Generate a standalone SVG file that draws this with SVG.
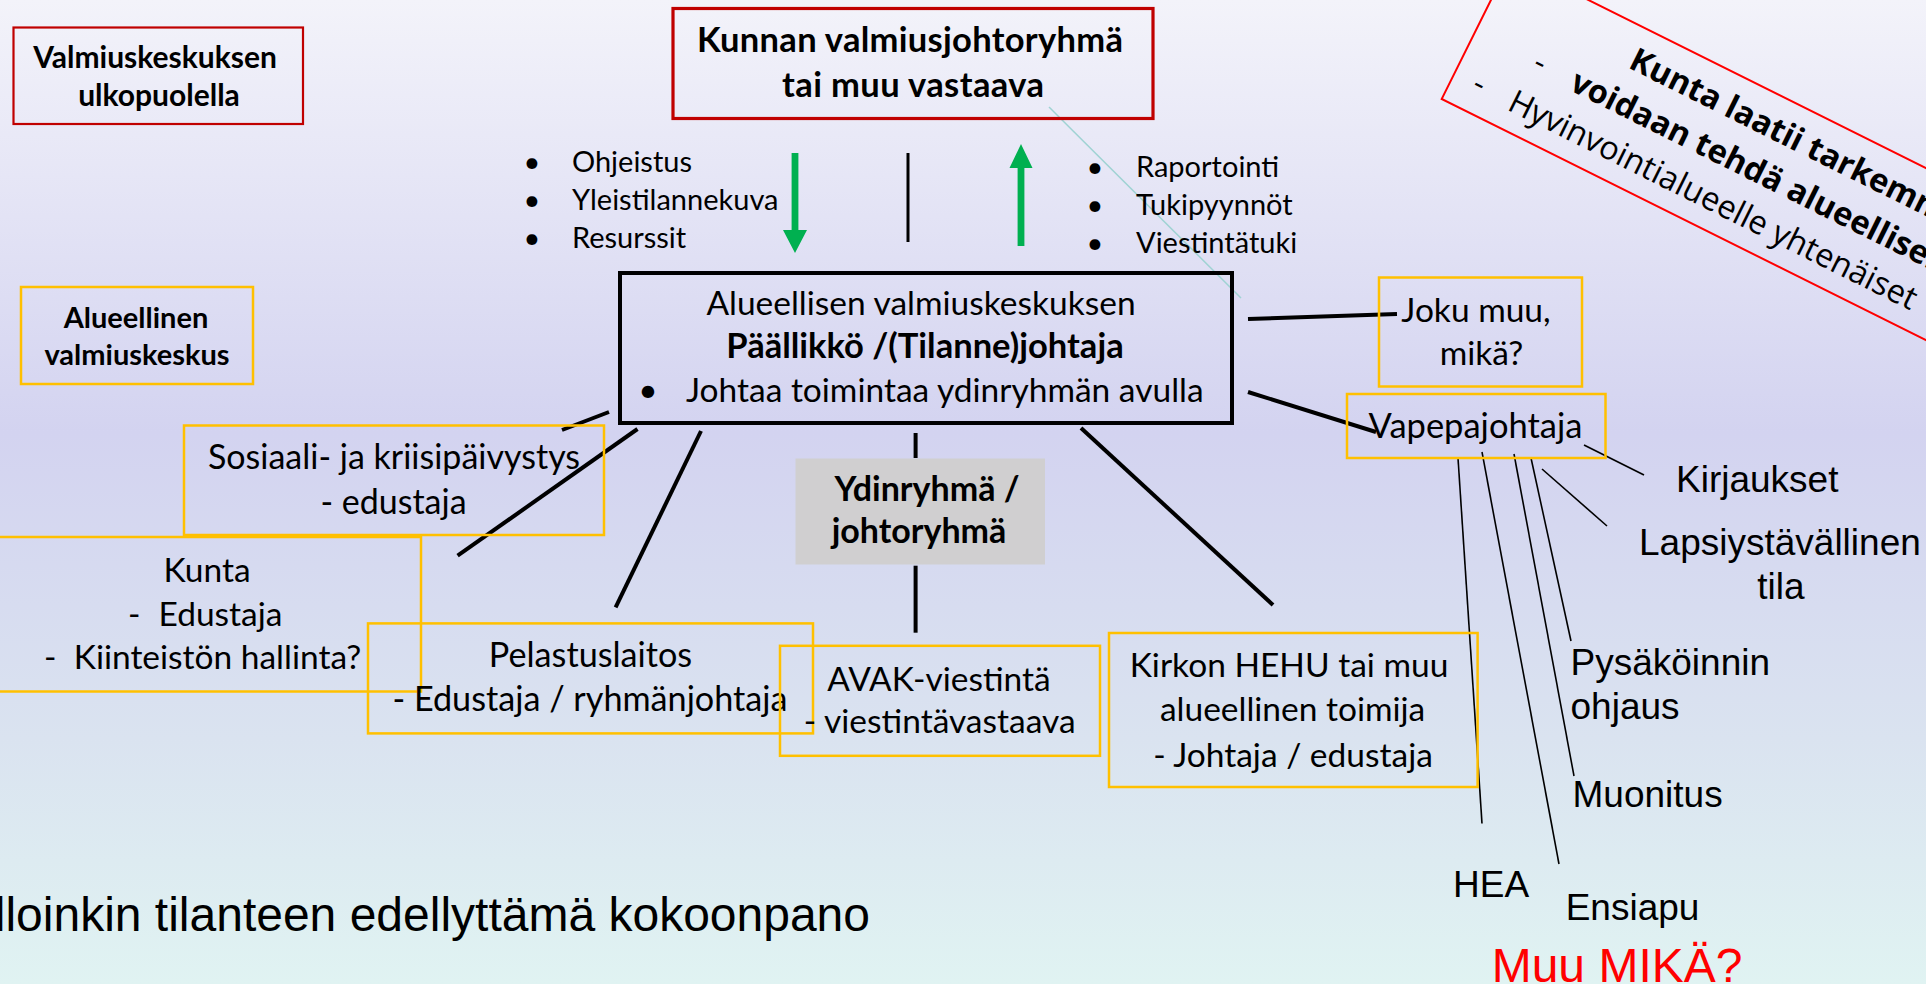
<svg xmlns="http://www.w3.org/2000/svg" width="1926" height="984" viewBox="0 0 1926 984">
<defs>
<linearGradient id="bg" x1="0" y1="0" x2="0" y2="1">
<stop offset="0" stop-color="#f3f3fa"/>
<stop offset="0.44" stop-color="#d3d3f0"/>
<stop offset="0.75" stop-color="#dae3f0"/>
<stop offset="1" stop-color="#e0f3f2"/>
</linearGradient>
<style>
.c{font-family:Lato,"Liberation Sans",sans-serif;fill:#000}
.b{font-weight:bold}
.t29{font-size:29px}
.t30{font-size:30px}
.t33{font-size:33.5px}
.t34{font-size:34.5px}
.a{font-family:"Liberation Sans",Arial,sans-serif;font-size:37px;fill:#000}
.o{font-family:"Open Sans",sans-serif;font-size:32.5px;fill:#000}
.m{text-anchor:middle}
.gold{fill:none;stroke:#ffc000;stroke-width:2.5}
.red{fill:none;stroke:#c00000}
.ln{stroke:#000;stroke-width:4;fill:none}
.thin{stroke:#000;stroke-width:1.6;fill:none}
.grn{fill:#00b050}
</style>
</defs>
<rect x="0" y="0" width="1926" height="984" fill="url(#bg)"/>

<g id="connectors">
<line class="ln" x1="908" y1="153" x2="908" y2="242" style="stroke-width:3"/>
<polygon class="grn" points="791.6,153 798.4,153 798.4,230 807,230 795,253 783,230 791.6,230"/>
<polygon class="grn" points="1021,144 1032.5,168 1024.4,168 1024.4,246 1017.6,246 1017.6,168 1009.5,168"/>
<line x1="1049" y1="107" x2="1241" y2="298" stroke="#9fd3d3" stroke-width="1.5"/>
<line class="ln" x1="1248" y1="319" x2="1397" y2="314"/>
<line class="ln" x1="1248" y1="392" x2="1376" y2="432"/>
<line class="ln" x1="562" y1="430" x2="609" y2="412"/>
<line class="ln" x1="637.5" y1="429" x2="457.6" y2="555.7"/>
<line class="ln" x1="701" y1="431" x2="615.6" y2="607.4"/>
<line class="ln" x1="1081" y1="428" x2="1273" y2="605"/>
<line class="ln" x1="915.6" y1="433" x2="915.6" y2="458"/>
<line class="ln" x1="915.6" y1="565.7" x2="915.6" y2="632.7"/>
<line class="thin" x1="1584" y1="445" x2="1644" y2="475"/>
<line class="thin" x1="1542" y1="469" x2="1607" y2="526"/>
<line class="thin" x1="1531" y1="458" x2="1571" y2="641"/>
<line class="thin" x1="1514" y1="454" x2="1574" y2="776"/>
<line class="thin" x1="1482" y1="452" x2="1559" y2="864"/>
<line class="thin" x1="1458" y1="458" x2="1482" y2="823.5"/>
</g>

<g id="valmiuskeskuksen-ulkopuolella">
<rect class="red" x="13.5" y="27.5" width="289.5" height="96.5" stroke-width="2.2"/>
<text class="c b t30 m" x="155" y="68">Valmiuskeskuksen</text>
<text class="c b t30 m" x="159" y="106">ulkopuolella</text>
</g>

<g id="kunnan-valmiusjohtoryhma">
<rect class="red" x="673" y="8.5" width="480" height="110" stroke-width="3.2"/>
<text class="c b m" x="910" y="52" font-size="34.5" textLength="426" lengthAdjust="spacing">Kunnan valmiusjohtoryhmä</text>
<text class="c b m" x="913" y="97" font-size="34.5" textLength="262" lengthAdjust="spacing">tai muu vastaava</text>
</g>

<g id="ohjeistus-lista">
<text class="c t29 m" x="532" y="172">•</text>
<text class="c t29" x="572" y="172">Ohjeistus</text>
<text class="c t29 m" x="532" y="210">•</text>
<text class="c t29" x="572" y="210">Yleistilannekuva</text>
<text class="c t29 m" x="532" y="248">•</text>
<text class="c t29" x="572" y="248">Resurssit</text>
</g>

<g id="raportointi-lista">
<text class="c t29 m" x="1095" y="177">•</text>
<text class="c t29" x="1136" y="177">Raportointi</text>
<text class="c t29 m" x="1095" y="215">•</text>
<text class="c t29" x="1136" y="215">Tukipyynnöt</text>
<text class="c t29 m" x="1095" y="253">•</text>
<text class="c t29" x="1136" y="253">Viestintätuki</text>
</g>

<g id="paallikko">
<rect x="620" y="273" width="612" height="150" fill="none" stroke="#000" stroke-width="4"/>
<text class="c t33 m" x="921" y="315">Alueellisen valmiuskeskuksen</text>
<text class="c b t34 m" x="925" y="358">Päällikkö /(Tilanne)johtaja</text>
<text class="c t33 m" x="648" y="402">•</text>
<text class="c t33" x="686" y="402">Johtaa toimintaa ydinryhmän avulla</text>
</g>

<g id="alueellinen-valmiuskeskus">
<rect class="gold" x="21" y="287" width="232" height="97"/>
<text class="c b t29 m" x="136" y="328">Alueellinen</text>
<text class="c b t29 m" x="137" y="365">valmiuskeskus</text>
</g>

<g id="kunta-ohje" transform="translate(1441.7,99) rotate(26.46)">
<rect x="0" y="-154" width="700" height="154" fill="none" stroke="#ff0000" stroke-width="2"/>
<text class="o" x="152" y="-111" font-weight="bold">Kunta laatii tarkemma</text>
<text class="o" x="67" y="-66">-</text>
<text class="o" x="109" y="-65" font-weight="bold">voidaan tehdä alueellisena</text>
<text class="o" x="22" y="-20">-</text>
<text class="o" x="62" y="-19.5">Hyvinvointialueelle yhtenäiset</text>
</g>

<g id="joku-muu">
<rect class="gold" x="1379" y="277.5" width="203" height="109"/>
<text class="c t33 m" x="1476" y="322">Joku muu,</text>
<text class="c t33 m" x="1481.5" y="365">mikä?</text>
</g>

<g id="vapepajohtaja">
<rect class="gold" x="1347" y="394" width="258.5" height="64"/>
<text class="c m" x="1475.5" y="438" font-size="34.5">Vapepajohtaja</text>
</g>

<g id="sosiaali">
<rect class="gold" x="184" y="425.5" width="420" height="109.5"/>
<text class="c m" x="394" y="469" font-size="34">Sosiaali- ja kriisipäivystys</text>
<text class="c m" x="393.5" y="514" font-size="34">- edustaja</text>
</g>

<g id="kunta">
<rect class="gold" x="-7" y="537" width="428" height="154.5"/>
<text class="c t33 m" x="207" y="582">Kunta</text>
<text class="c t33" x="128" y="626">-</text>
<text class="c t33" x="158.5" y="626">Edustaja</text>
<text class="c t33" x="44" y="669">-</text>
<text class="c t33" x="73.7" y="669">Kiinteistön hallinta?</text>
</g>

<g id="ydinryhma">
<rect x="795.5" y="458.5" width="249.5" height="106" fill="#d0cfd0"/>
<text class="c b m" x="927" y="501" font-size="34">Ydinryhmä /</text>
<text class="c b m" x="919" y="543" font-size="34">johtoryhmä</text>
</g>

<g id="pelastuslaitos">
<rect class="gold" x="368" y="623.4" width="445" height="110"/>
<text class="c m" x="590.5" y="667" font-size="34.2">Pelastuslaitos</text>
<text class="c m" x="590" y="711" font-size="34.2">- Edustaja / ryhmänjohtaja</text>
</g>

<g id="avak">
<rect class="gold" x="780" y="645.8" width="320" height="110"/>
<text class="c t33 m" x="939" y="690.5">AVAK-viestintä</text>
<text class="c t33 m" x="939.7" y="733">- viestintävastaava</text>
</g>

<g id="kirkon-hehu">
<rect class="gold" x="1109" y="633" width="368.6" height="154"/>
<text class="c t33 m" x="1289" y="677">Kirkon HEHU tai muu</text>
<text class="c t33 m" x="1292.6" y="721">alueellinen toimija</text>
<text class="c t33 m" x="1293" y="767">- Johtaja / edustaja</text>
</g>

<g id="vapepa-tehtavat">
<text class="a" x="1676" y="492">Kirjaukset</text>
<text class="a" x="1639" y="555">Lapsiystävällinen</text>
<text class="a m" x="1781" y="599">tila</text>
<text class="a" x="1570.5" y="674.5">Pysäköinnin</text>
<text class="a" x="1570.5" y="719">ohjaus</text>
<text class="a" x="1572.5" y="807">Muonitus</text>
<text class="a" x="1453" y="897">HEA</text>
<text class="a" x="1565.7" y="920">Ensiapu</text>
<text class="a" x="1491.7" y="982" style="font-size:48px;fill:#ff0000">Muu MIKÄ?</text>
</g>

<g id="kokoonpano">
<text class="a" x="870" y="931" style="font-size:48px;text-anchor:end">lloinkin tilanteen edellyttämä kokoonpano</text>
</g>
</svg>
